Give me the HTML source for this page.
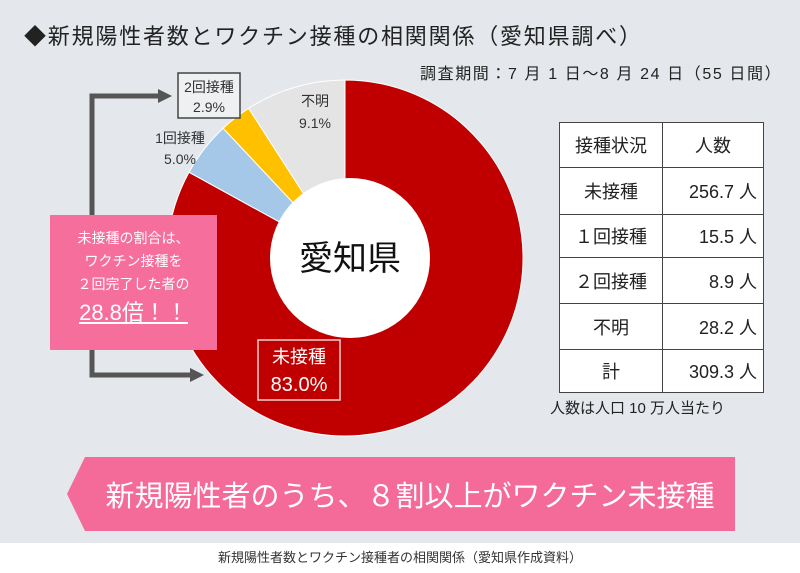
<!DOCTYPE html>
<html><head><meta charset="utf-8"><style>
body{margin:0;width:800px;height:573px;background:#fff;font-family:"Liberation Sans","Noto Sans CJK JP",sans-serif;overflow:hidden}
#bg{position:absolute;left:0;top:0;width:800px;height:543px;background:#e4e8ec}
.t{position:absolute;white-space:nowrap}
table{position:absolute;left:559px;top:122px;border-collapse:collapse;background:#fff;font-size:18px;color:#222}
td{border:1.5px solid #444;text-align:center;padding:0}
</style></head><body>
<div id="bg"></div>
<div class="t" style="left:24px;top:19px;font-size:22px;letter-spacing:1.8px;color:#222">◆新規陽性者数とワクチン接種の相関関係（愛知県調べ）</div>
<div class="t" style="left:420px;top:60px;font-size:16px;letter-spacing:1.6px;color:#222">調査期間：7 月 1 日～8 月 24 日（55 日間）</div>
<svg id="pie" width="800" height="573" style="position:absolute;left:0;top:0">
<g id="slices"></g>
<circle cx="350" cy="258" r="80" fill="#fff"/>
<text x="350" y="270" font-size="34" text-anchor="middle" fill="#111" font-family="Liberation Sans,Noto Sans CJK JP,sans-serif">愛知県</text>
<path d="M92,215 V96 H160" stroke="#555" stroke-width="5" fill="none"/>
<polygon points="158,89 172,96 158,103" fill="#555"/>
<path d="M92,350 V375 H192" stroke="#555" stroke-width="5" fill="none"/>
<polygon points="190,368 204,375 190,382" fill="#555"/>
<rect x="178" y="73" width="62" height="45" fill="#eef0f2" stroke="#444" stroke-width="1.5"/>
<text x="209" y="92" font-size="14" text-anchor="middle" fill="#333">2回接種</text>
<text x="209" y="112" font-size="14" text-anchor="middle" fill="#333">2.9%</text>
<text x="180" y="143" font-size="14" text-anchor="middle" fill="#333">1回接種</text>
<text x="180" y="164" font-size="14" text-anchor="middle" fill="#333">5.0%</text>
<text x="315" y="106" font-size="14" text-anchor="middle" fill="#333">不明</text>
<text x="315" y="128" font-size="14" text-anchor="middle" fill="#333">9.1%</text>
<rect x="258" y="340" width="82" height="60" fill="none" stroke="#f4d0d0" stroke-width="1.5"/>
<text x="299" y="363" font-size="18" text-anchor="middle" fill="#fff">未接種</text>
<text x="299" y="391" font-size="20" text-anchor="middle" fill="#fff">83.0%</text>
<polygon points="67,494 85,457 735,457 735,531 85,531" fill="#f46a98"/>
<text x="410" y="506" font-size="29" text-anchor="middle" fill="#fff">新規陽性者のうち、８割以上がワクチン未接種</text>
</svg>
<div style="position:absolute;left:50px;top:215px;width:167px;height:135px;background:#f66f9c;color:#fff;text-align:center;font-size:14px;line-height:23px;box-sizing:border-box;padding-top:12px">未接種の割合は、<br>ワクチン接種を<br>２回完了した者の<br><span style="font-size:22px;text-decoration:underline;line-height:34px">28.8倍！！</span></div>
<table>
<tr style="height:45px"><td style="width:102px">接種状況</td><td style="width:100px">人数</td></tr>
<tr style="height:47px"><td>未接種</td><td style="text-align:right;padding-right:6px">256.7 人</td></tr>
<tr style="height:43px"><td>１回接種</td><td style="text-align:right;padding-right:6px">15.5 人</td></tr>
<tr style="height:46px"><td>２回接種</td><td style="text-align:right;padding-right:6px">8.9 人</td></tr>
<tr style="height:46px"><td>不明</td><td style="text-align:right;padding-right:6px">28.2 人</td></tr>
<tr style="height:43px"><td>計</td><td style="text-align:right;padding-right:6px">309.3 人</td></tr>
</table>
<div class="t" style="left:550px;top:397px;font-size:15px;color:#222">人数は人口 10 万人当たり</div>
<div class="t" style="left:0;width:800px;text-align:center;top:547px;font-size:13px;color:#333">新規陽性者数とワクチン接種者の相関関係（愛知県作成資料）</div>
<script>
const categories=["未接種","1回接種","2回接種","不明"];
const shares=[83.0,5.0,2.9,9.1];
const colors=["#c00000","#a6c8e8","#ffc000","#e4e4e4"];
const cx=345,cy=258,R=178;
const g=document.getElementById('slices');
let acc=0;const tot=shares.reduce((a,b)=>a+b,0);
function pt(f){const a=f*2*Math.PI-Math.PI/2;return [cx+R*Math.cos(a),cy+R*Math.sin(a)];}
shares.forEach((v,i)=>{
 const s=pt(acc/tot);acc+=v;const e=pt(acc/tot);
 const large=v/tot>0.5?1:0;
 const p=document.createElementNS('http://www.w3.org/2000/svg','path');
 p.setAttribute('d',`M${cx},${cy} L${s[0]},${s[1]} A${R},${R} 0 ${large} 1 ${e[0]},${e[1]} Z`);
 p.setAttribute('fill',colors[i]);
 p.setAttribute('stroke','#fff');p.setAttribute('stroke-width','1');
 
 
 g.appendChild(p);
});
</script>
</body></html>
